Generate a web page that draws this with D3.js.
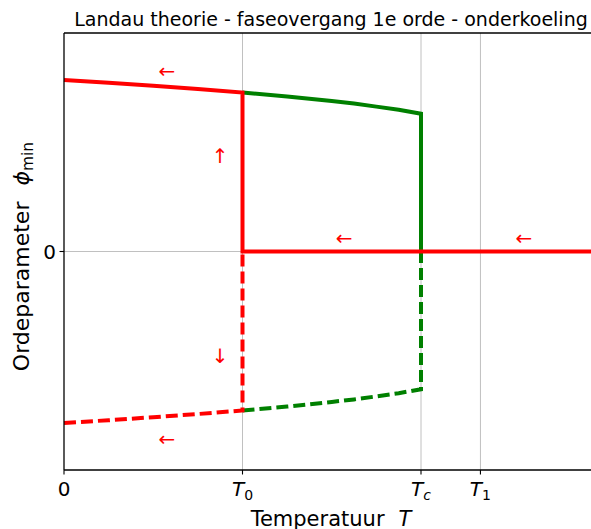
<!DOCTYPE html>
<html>
<head>
<meta charset="utf-8">
<script src="https://cdn.jsdelivr.net/npm/d3@7"></script>
<style>
  body { margin: 0; background: #fff; }
  svg { display: block; font-family: "DejaVu Sans", sans-serif; }
</style>
</head>
<body>
<svg id="chart" width="591" height="529"></svg>
<script>
// Temperature samples along the ordered branches (units of T0)
const temps = [0, 0.25, 0.5, 0.75, 1.0, 1.25, 1.5, 1.625, 1.75, 1.875, 2.0];
// Equilibrium order parameter on the ordered branch (positive root)
const phiUpper = [1.078, 1.061, 1.042, 1.022, 1.0, 0.975, 0.946, 0.930, 0.911, 0.891, 0.866];
// Negative root (mirror branch)
const phiLower = [-1.078, -1.061, -1.042, -1.022, -1.0, -0.975, -0.946, -0.930, -0.911, -0.891, -0.866];

// Characteristic temperatures
const T0 = 1.0, Tc = 2.0, T1 = 2.333;
const xTicks = [0, T0, Tc, T1];
const xTickLabels = [["0", null], ["T", "0"], ["T", "c"], ["T", "1"]];
const xMax = 3.0;
const yLim = 1.374;

// Direction arrows: [T, phi, glyph]
const arrows = [
  [0.577, 1.135, "←"],
  [1.569, 0.085, "←"],
  [2.577, 0.085, "←"],
  [0.577, -1.18, "←"],
  [0.874, 0.60, "↑"],
  [0.874, -0.66, "↓"]
];

const svg = d3.select("#chart");
const x = d3.scaleLinear().domain([0, xMax]).range([64, 599.5]);
const y = d3.scaleLinear().domain([-yLim, yLim]).range([470, 33]);

const red = "#ff0000", green = "#008000";

// grid lines
const grid = svg.append("g");
xTicks.slice(1).forEach(t => {
  grid.append("line").attr("x1", x(t)).attr("x2", x(t)).attr("y1", y(-yLim)).attr("y2", y(yLim))
    .attr("stroke", "#b0b0b0").attr("stroke-width", 0.8);
});
grid.append("line").attr("x1", x(0)).attr("x2", x(xMax)).attr("y1", y(0)).attr("y2", y(0))
  .attr("stroke", "#b0b0b0").attr("stroke-width", 0.8);

const line = d3.line().x(d => x(d[0])).y(d => y(d[1]));
const pts = (arr, lo, hi) => temps.map((t, i) => [t, arr[i]]).filter(d => d[0] >= lo && d[0] <= hi);

const plot = svg.append("g");
const lw = 4;
const dash = "12,5";

// green branches (metastable ordered states between T0 and Tc)
plot.append("path").attr("d", line([...pts(phiUpper, T0, Tc), [Tc, 0]]))
  .attr("fill", "none").attr("stroke", green).attr("stroke-width", lw);
plot.append("path").attr("d", line([...pts(phiLower, T0, Tc), [Tc, 0]]))
  .attr("fill", "none").attr("stroke", green).attr("stroke-width", lw).attr("stroke-dasharray", dash);

// red: supercooled path
plot.append("path").attr("d", line([...pts(phiUpper, 0, T0), [T0, 0], [xMax, 0]]))
  .attr("fill", "none").attr("stroke", red).attr("stroke-width", lw);
plot.append("path").attr("d", line([...pts(phiLower, 0, T0), [T0, 0]]))
  .attr("fill", "none").attr("stroke", red).attr("stroke-width", lw).attr("stroke-dasharray", dash);

// direction arrows
arrows.forEach(([t, p, g]) => {
  svg.append("text").attr("x", x(t)).attr("y", y(p))
    .attr("text-anchor", "middle").attr("dominant-baseline", "central")
    .attr("fill", red).attr("font-size", 20).text(g);
});

// spines (the right spine falls outside the frame)
const ax = svg.append("g").attr("stroke", "#000").attr("stroke-width", 1.3);
ax.append("line").attr("x1", 64).attr("x2", 64).attr("y1", 33).attr("y2", 470);
ax.append("line").attr("x1", 64).attr("x2", 599.5).attr("y1", 470).attr("y2", 470);
ax.append("line").attr("x1", 64).attr("x2", 599.5).attr("y1", 33).attr("y2", 33);
ax.append("line").attr("x1", 599.5).attr("x2", 599.5).attr("y1", 33).attr("y2", 470);

// x ticks
xTicks.forEach((t, i) => {
  svg.append("line").attr("x1", x(t)).attr("x2", x(t)).attr("y1", 470).attr("y2", 474.5)
    .attr("stroke", "#000").attr("stroke-width", 1.1);
  const [main, sub] = xTickLabels[i];
  const tx = svg.append("text").attr("x", x(t)).attr("y", 496).attr("text-anchor", "middle")
    .attr("font-size", 20).attr("fill", "#000");
  if (sub === null) {
    tx.text(main);
  } else {
    tx.append("tspan").attr("font-style", "italic").text(main);
    tx.append("tspan").attr("font-size", 14).attr("dy", 4)
      .attr("font-style", sub === "c" ? "italic" : "normal").text(sub);
  }
});

// y tick at 0
svg.append("line").attr("x1", 59.5).attr("x2", 64).attr("y1", y(0)).attr("y2", y(0))
  .attr("stroke", "#000").attr("stroke-width", 1.1);
svg.append("text").attr("x", 56).attr("y", y(0)).attr("text-anchor", "end")
  .attr("dominant-baseline", "central").attr("font-size", 20).text("0");

// axis labels
const xl = svg.append("text").attr("x", 331).attr("y", 525.5).attr("text-anchor", "middle")
  .attr("font-size", 21);
xl.append("tspan").text("Temperatuur");
xl.append("tspan").attr("dx", 14).attr("font-style", "italic").text("T");

const yl = svg.append("text").attr("transform", "translate(29,256.5) rotate(-90)")
  .attr("text-anchor", "middle").attr("font-size", 22);
yl.append("tspan").text("Ordeparameter");
yl.append("tspan").attr("dx", 16).attr("font-style", "italic").text("ϕ");
yl.append("tspan").attr("font-size", 15.5).attr("dy", 4).text("min");

// title
svg.append("text").attr("x", 331).attr("y", 25.5).attr("text-anchor", "middle")
  .attr("font-size", 19).text("Landau theorie - faseovergang 1e orde - onderkoeling");
</script>
</body>
</html>
